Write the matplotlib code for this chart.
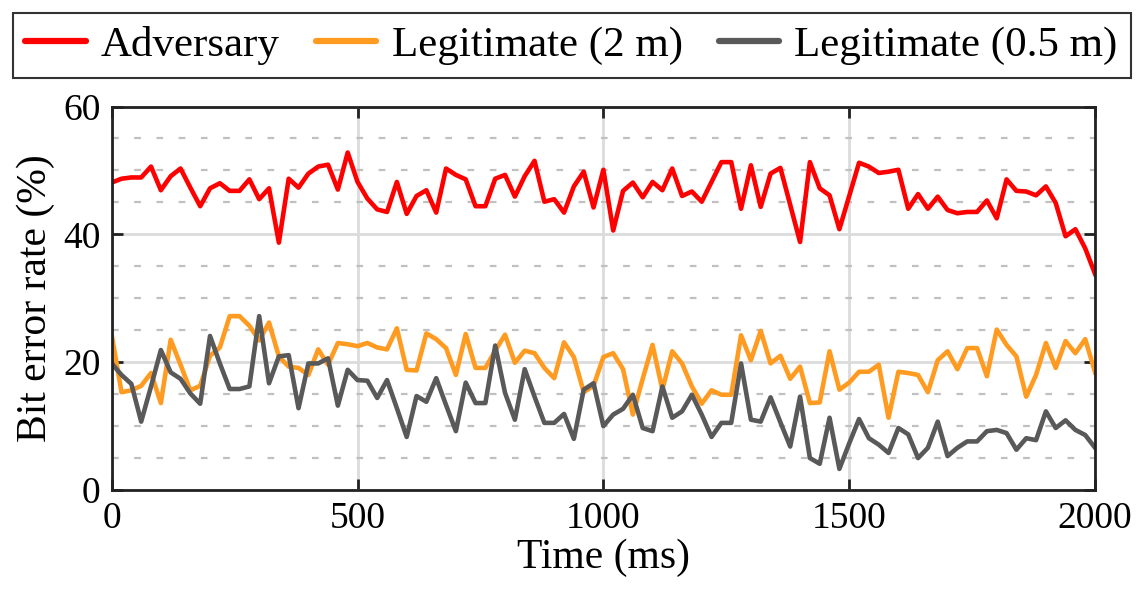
import numpy as np
import matplotlib
matplotlib.use("Agg")
import matplotlib.pyplot as plt
from matplotlib.ticker import MultipleLocator

plt.rcParams["font.family"] = ["Liberation Serif", "DejaVu Serif"]

# time axis: one sample every 20 ms
time_ms = np.arange(0, 2001, 20)

adversary = [
    48.1, 48.7, 48.9, 48.9, 50.6, 46.9, 49.1, 50.3, 47.3, 44.4,
    47.2, 48.0, 46.8, 46.8, 48.6, 45.5, 47.2, 38.7, 48.7, 47.3,
    49.5, 50.6, 50.9, 47.0, 52.8, 48.2, 45.6, 43.9, 43.5, 48.2,
    43.2, 46.0, 46.9, 43.4, 50.3, 49.3, 48.6, 44.4, 44.4, 48.7,
    49.3, 45.9, 49.1, 51.5, 45.1, 45.5, 43.4, 47.5, 49.8, 44.2,
    50.1, 40.6, 46.8, 48.1, 45.8, 48.2, 46.9, 50.3, 46.0, 46.7,
    45.1, 48.2, 51.3, 51.3, 44.0, 50.8, 44.3, 49.5, 50.4, 44.6,
    38.8, 51.3, 47.2, 46.1, 40.8, 46.0, 51.2, 50.6, 49.6, 49.8,
    50.1, 44.0, 46.3, 44.0, 45.9, 43.8, 43.3, 43.5, 43.5, 45.3,
    42.5, 48.6, 46.8, 46.7, 46.1, 47.5, 44.9, 39.7, 40.8, 37.8,
    33.8,
]

legit_2m = [
    24.3, 15.3, 15.6, 16.3, 18.3, 13.6, 23.5, 19.6, 15.6, 16.3,
    21.0, 22.3, 27.2, 27.2, 25.7, 23.4, 26.2, 20.9, 19.3, 19.1,
    18.0, 22.0, 19.6, 23.0, 22.8, 22.5, 23.0, 22.3, 22.0, 25.3,
    18.8, 18.7, 24.5, 23.6, 22.2, 18.0, 24.4, 19.1, 19.1, 21.8,
    24.3, 19.9, 21.8, 21.4, 19.1, 17.5, 23.1, 20.8, 15.3, 16.3,
    20.8, 21.4, 18.9, 11.8, 17.4, 22.7, 15.7, 21.7, 19.8, 16.2,
    13.5, 15.6, 14.9, 14.9, 24.2, 20.3, 24.9, 19.8, 21.0, 17.4,
    19.3, 13.6, 13.7, 21.7, 15.7, 16.8, 18.5, 18.5, 19.6, 11.3,
    18.5, 18.3, 18.0, 15.3, 20.3, 21.7, 18.9, 22.2, 22.2, 17.8,
    25.1, 22.7, 20.9, 14.6, 18.0, 23.0, 19.1, 23.3, 21.4, 23.6,
    18.4,
]

legit_05m = [
    19.8, 18.0, 16.6, 10.7, 16.2, 21.9, 18.4, 17.4, 15.1, 13.5,
    24.1, 19.8, 15.8, 15.8, 16.2, 27.2, 16.7, 20.9, 21.1, 12.8,
    19.8, 19.8, 20.6, 13.2, 18.8, 17.2, 17.1, 14.4, 17.2, 12.8,
    8.3, 14.7, 13.8, 17.5, 13.3, 9.2, 16.8, 13.6, 13.6, 22.6,
    15.2, 11.0, 18.9, 14.6, 10.5, 10.5, 11.9, 8.0, 15.7, 16.7,
    10.0, 11.8, 12.7, 14.9, 9.7, 9.2, 16.2, 11.3, 12.3, 14.9,
    11.8, 8.3, 10.5, 10.5, 19.8, 11.0, 10.7, 14.5, 10.6, 6.8,
    14.6, 5.0, 4.1, 11.3, 3.3, 7.3, 11.1, 8.1, 7.1, 5.8,
    9.7, 8.7, 5.0, 6.6, 10.7, 5.3, 6.6, 7.6, 7.6, 9.2,
    9.4, 8.9, 6.3, 8.1, 7.8, 12.3, 9.7, 10.9, 9.4, 8.6,
    6.6,
]

series_names = ["Adversary", "Legitimate (2 m)", "Legitimate (0.5 m)"]
series_colors = ["#ff0000", "#ff9b21", "#595959"]

fig = plt.figure(figsize=(11.42, 5.93), dpi=100)
ax = fig.add_axes([0.0978, 0.1737, 0.8611, 0.6467])

for vals, name, col in zip([adversary, legit_2m, legit_05m], series_names, series_colors):
    ax.plot(time_ms, vals, color=col, lw=3.3, label=name)

ax.set_xlim(0, 2000)
ax.set_ylim(0, 60)
ax.xaxis.set_major_locator(MultipleLocator(500))
ax.yaxis.set_major_locator(MultipleLocator(20))
ax.yaxis.set_minor_locator(MultipleLocator(5))

# grid: solid light major lines, dashed minor horizontal lines
ax.grid(which="major", color="#dcdcdc", lw=2, linestyle="-")
ax.grid(which="minor", axis="y", color="#c0c0c0", lw=1.6, linestyle=(0, (3, 7)))
ax.set_axisbelow(True)

ax.tick_params(which="major", direction="in", length=8, width=2, top=True, right=True,
               labelsize=27, pad=8, color="#222222")
ax.tick_params(which="minor", length=0)
for s in ax.spines.values():
    s.set_linewidth(2)
    s.set_color("#222222")

ax.set_xlabel("Time (ms)", fontsize=30, labelpad=2)
ax.set_ylabel("Bit error rate (%)", fontsize=30, labelpad=6)

leg = fig.legend(loc="lower left", bbox_to_anchor=(0.011, 0.868, 0.979, 0.123), mode="expand",
                 borderaxespad=0, ncol=3, fontsize=31, frameon=True, fancybox=False,
                 edgecolor="black", handlelength=1.4, handletextpad=0.35,
                 columnspacing=1.0, borderpad=0.3)
leg.get_frame().set_linewidth(1.5)
for ln in leg.get_lines():
    ln.set_linewidth(4.5)
    ln.set_solid_capstyle("round")

fig.savefig("out.png", dpi=100)
